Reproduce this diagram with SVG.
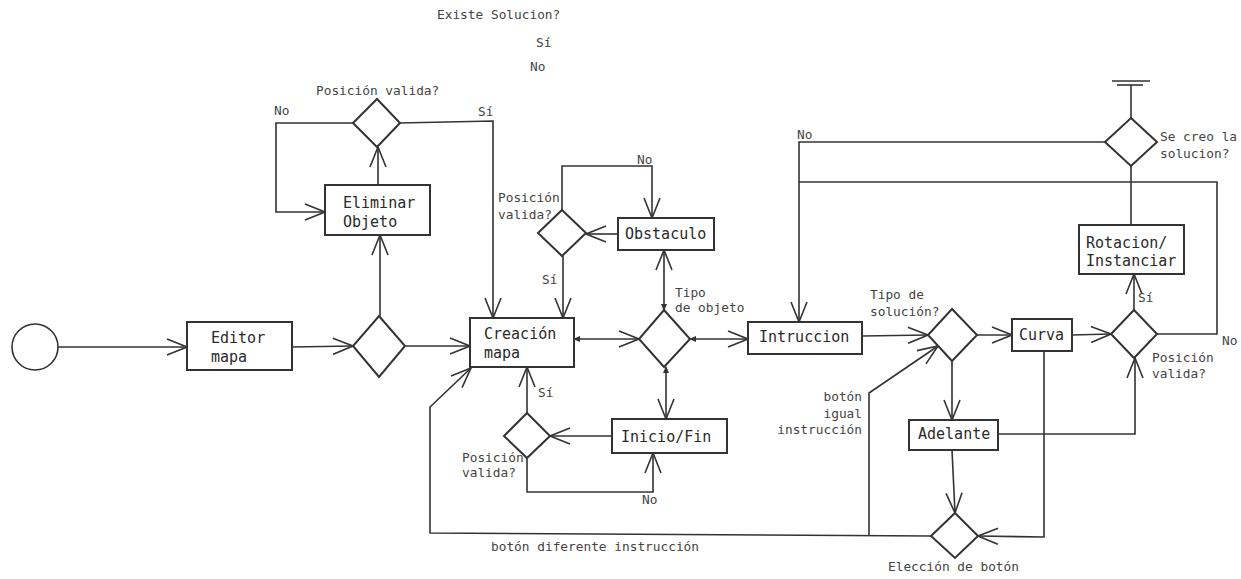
<svg xmlns="http://www.w3.org/2000/svg" width="1241" height="579" viewBox="0 0 1241 579">
<style>
.bg{fill:#fff}
.node rect{fill:#fff;stroke:#333;stroke-width:2}
.node polygon{fill:#fff;stroke:#333;stroke-width:2}
.node circle{fill:#fff;stroke:#333;stroke-width:1.6}
.bt{font-family:"DejaVu Sans Mono","Liberation Mono",monospace;font-size:15px;fill:#2a2a2a}
.lb{font-family:"DejaVu Sans Mono","Liberation Mono",monospace;font-size:12.8px;fill:#444}
#connectors path,#connectors line{fill:none;stroke:#333;stroke-width:1.6}
.a{marker-end:url(#arr)}
.s{marker-start:url(#dot)}
</style>
<defs>
<marker id="arr" viewBox="0 0 22 18" refX="21" refY="9" markerWidth="22" markerHeight="18" markerUnits="userSpaceOnUse" orient="auto">
<path d="M1,1 L21,9 L1,17" fill="none" stroke="#333" stroke-width="1.6"/>
</marker>
<marker id="dot" viewBox="0 0 8 8" refX="1" refY="4" markerWidth="8" markerHeight="8" markerUnits="userSpaceOnUse" orient="auto">
<path d="M0,4 L7,1 L7,7 z" fill="#333"/>
</marker>
</defs>
<rect class="bg" x="0" y="0" width="1241" height="579"/>

<g id="connectors">
<path class="a" d="M58,347 L187,347"/>
<path class="a" d="M292,347 L353,346"/>
<path class="a" d="M405,346 L470,346"/>
<path class="a" d="M380,316 L380,235"/>
<path class="a" d="M378,185 L378,147"/>
<path class="a" d="M353,123 L276,123 L276,212 L325,212"/>
<path class="a" d="M399,123 L493,121 L493,318"/>
<path class="a s" d="M574,339 L639,339"/>
<path class="a s" d="M664,310 L664,250"/>
<path class="a" d="M618,234 L586,234"/>
<path class="a" d="M562,210 L562,166 L652,166 L652,218"/>
<path class="a" d="M563,256 L563,318"/>
<path class="a s" d="M666,367 L666,419"/>
<path class="a" d="M612,436 L550,436"/>
<path class="a" d="M527,413 L527,367"/>
<path class="a" d="M527,458 L527,492 L653,492 L653,453"/>
<path class="a s" d="M690,339 L748,339"/>
<path class="a" d="M862,336 L928,335"/>
<path class="a" d="M977,335 L1012,335"/>
<path class="a" d="M1072,335 L1111,334"/>
<path class="a" d="M1134,310 L1134,274"/>
<path d="M1131,225 L1131,166"/>
<path d="M1131,118 L1131,85"/>
<path d="M1112,81 L1150,81"/>
<path d="M1117,85 L1143,85"/>
<path class="a" d="M1105,142 L799,142 L799,322"/>
<path d="M1157,334 L1217,334 L1217,182 L799,182"/>
<path class="a" d="M952,361 L952,420"/>
<path class="a" d="M998,434 L1135,434 L1135,358"/>
<path class="a" d="M952,450 L955,513"/>
<path class="a" d="M1044,351 L1044,537 L978,536"/>
<path class="a" d="M931,536 L430,533 L430,407 L471,368"/>
<path class="a" d="M869,535 L869,393 L938,346"/>
</g>

<g id="start" class="node"><circle cx="35" cy="347" r="23"/></g>

<g id="editor" class="node"><rect x="187" y="322" width="105" height="48"/>
<text class="bt" x="211" y="343">Editor</text><text class="bt" x="211" y="362">mapa</text></g>

<g id="d1" class="node"><polygon points="379,316 405,346 379,377 353,346"/></g>

<g id="eliminar" class="node"><rect x="325" y="185" width="105" height="50"/>
<text class="bt" x="343" y="208">Eliminar</text><text class="bt" x="343" y="227">Objeto</text></g>

<g id="d2" class="node"><polygon points="377,99 400,123 377,147 353,123"/>
<text class="lb" x="316" y="95">Posición valida?</text>
<text class="lb" x="274" y="115">No</text>
<text class="lb" x="478" y="116">Sí</text></g>

<g id="creacion" class="node"><rect x="470" y="318" width="104" height="49"/>
<text class="bt" x="484" y="339">Creación</text><text class="bt" x="484" y="358">mapa</text></g>

<g id="tipo-objeto" class="node"><polygon points="664,310 690,339 664,367 639,339"/>
<text class="lb" x="675" y="297">Tipo</text><text class="lb" x="675" y="312">de objeto</text></g>

<g id="obstaculo" class="node"><rect x="618" y="218" width="96" height="32"/>
<text class="bt" x="625" y="239">Obstaculo</text></g>

<g id="d3" class="node"><polygon points="562,210 586,233 562,256 538,233"/>
<text class="lb" x="498" y="202">Posición</text><text class="lb" x="498" y="219">valida?</text>
<text class="lb" x="637" y="164">No</text>
<text class="lb" x="542" y="284">Sí</text></g>

<g id="inicio" class="node"><rect x="612" y="419" width="115" height="34"/>
<text class="bt" x="621" y="442">Inicio/Fin</text></g>

<g id="d4" class="node"><polygon points="527,413 550,436 527,458 504,436"/>
<text class="lb" x="462" y="462">Posición</text><text class="lb" x="462" y="477">valida?</text>
<text class="lb" x="538" y="397">Sí</text>
<text class="lb" x="642" y="504">No</text></g>

<g id="intruccion" class="node"><rect x="748" y="322" width="114" height="32"/>
<text class="bt" x="759" y="342">Intruccion</text></g>

<g id="tipo-solucion" class="node"><polygon points="952,309 977,335 952,361 928,335"/>
<text class="lb" x="870" y="299">Tipo de</text><text class="lb" x="870" y="316">solución?</text></g>

<g id="curva" class="node"><rect x="1012" y="319" width="60" height="32"/>
<text class="bt" x="1019" y="340">Curva</text></g>

<g id="d5" class="node"><polygon points="1134,310 1157,334 1134,358 1111,334"/>
<text class="lb" x="1152" y="362">Posición</text><text class="lb" x="1152" y="378">valida?</text>
<text class="lb" x="1138" y="302">Sí</text>
<text class="lb" x="1222" y="345">No</text></g>

<g id="rotacion" class="node"><rect x="1079" y="225" width="105" height="49"/>
<text class="bt" x="1086" y="248">Rotacion/</text><text class="bt" x="1086" y="266">Instanciar</text></g>

<g id="se-creo" class="node"><polygon points="1131,118 1157,142 1131,166 1105,142"/>
<text class="lb" x="1160" y="141">Se creo la</text><text class="lb" x="1160" y="158">solucion?</text>
<text class="lb" x="797" y="139">No</text></g>

<g id="adelante" class="node"><rect x="909" y="420" width="89" height="30"/>
<text class="bt" x="918" y="439">Adelante</text></g>

<g id="eleccion" class="node"><polygon points="955,513 978,536 955,558 931,536"/>
<text class="lb" x="888" y="571">Elección de botón</text></g>

<g id="labels">
<text class="lb" x="437" y="19">Existe Solucion?</text>
<text class="lb" x="536" y="47">Sí</text>
<text class="lb" x="530" y="71">No</text>
<text class="lb" x="491" y="551">botón diferente instrucción</text>
<text class="lb" x="862" y="401" text-anchor="end">botón</text>
<text class="lb" x="862" y="418" text-anchor="end">igual</text>
<text class="lb" x="862" y="434" text-anchor="end">instrucción</text>
</g>
</svg>
